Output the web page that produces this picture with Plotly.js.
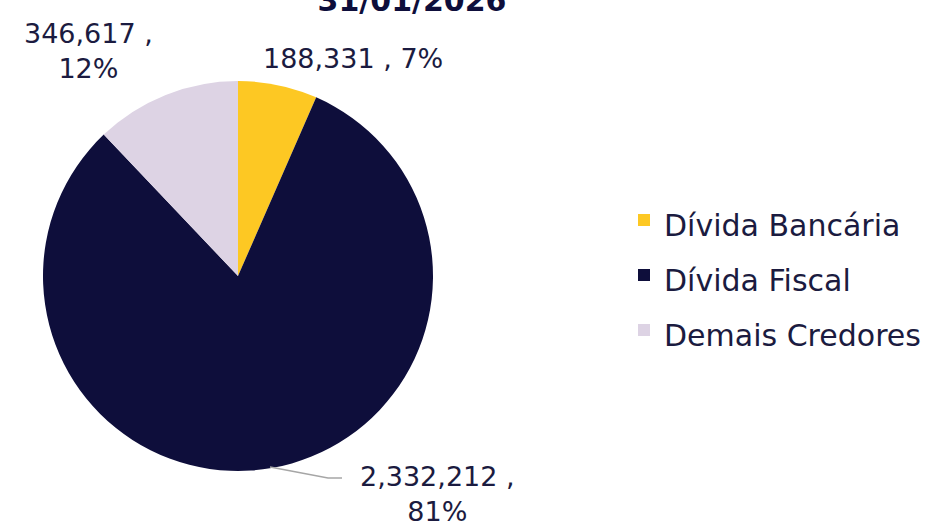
<!DOCTYPE html>
<html>
<head>
<meta charset="utf-8">
<script src="https://cdn.plot.ly/plotly-3.0.1.min.js"></script>
<style>html,body{margin:0;padding:0;background:#fff;}#chart{width:934px;height:527px;}</style>
</head>
<body>
<div id="chart"></div>
<script>
const categories = ["Dívida Bancária", "Dívida Fiscal", "Demais Credores"];
const values = [188331, 2332212, 346617];
const colors = ["#FDC823", "#0E0E3B", "#DDD3E4"];
const titleText = "31/01/2026";

const total = values.reduce((a, b) => a + b, 0);
const fmt = v => v.toLocaleString("en-US");
const pct = v => Math.round(v / total * 100) + "%";

const FONT = "DejaVu Sans, sans-serif";
const TXT = "#1B1B40";

const labelSpecs = [
  {x: 353 / 934, y: 1 - 58 / 527, br: false},
  {x: 437 / 934, y: 1 - 494 / 527, br: true},
  {x: 88 / 934, y: 1 - 51 / 527, br: true}
];

const annotations = values.map((v, i) => ({
  xref: "paper", yref: "paper",
  x: labelSpecs[i].x, y: labelSpecs[i].y,
  xanchor: "center", yanchor: "middle",
  text: fmt(v) + " ," + (labelSpecs[i].br ? "<br>" : " ") + pct(v),
  showarrow: false,
  align: "center",
  font: {family: FONT, size: 27, color: TXT}
}));

const data = [{
  type: "pie",
  labels: categories.map(c => '<span style="font-size:30px">' + c + '</span>'),
  values: values,
  sort: false,
  direction: "clockwise",
  rotation: 0,
  marker: {colors: colors, line: {width: 0}},
  textinfo: "none",
  hoverinfo: "value+percent",
  domain: {x: [43 / 934, 433 / 934], y: [56 / 527, 446 / 527]}
}];

const layout = {
  width: 934, height: 527,
  margin: {l: 0, r: 0, t: 0, b: 0},
  paper_bgcolor: "#ffffff",
  title: {
    text: "<b>" + titleText + "</b>",
    x: 412 / 934, xanchor: "center",
    y: 0.98, yanchor: "bottom",
    font: {family: FONT, size: 30, color: "#0E0E3B"}
  },
  showlegend: true,
  legend: {
    x: 624 / 934, xanchor: "left",
    y: 1 - 275 / 527, yanchor: "middle",
    font: {family: FONT, size: 40, color: TXT},
    traceorder: "normal"
  },
  annotations: annotations,
  shapes: [{
    type: "path", xref: "paper", yref: "paper",
    path: "M " + (270 / 934) + " " + (1 - 467 / 527) + " L " + (328 / 934) + " " + (1 - 478 / 527) + " L " + (342 / 934) + " " + (1 - 478 / 527),
    line: {color: "#A6A6A6", width: 1.5}
  }]
};

Plotly.newPlot("chart", data, layout, {displayModeBar: false});
</script>
</body>
</html>
